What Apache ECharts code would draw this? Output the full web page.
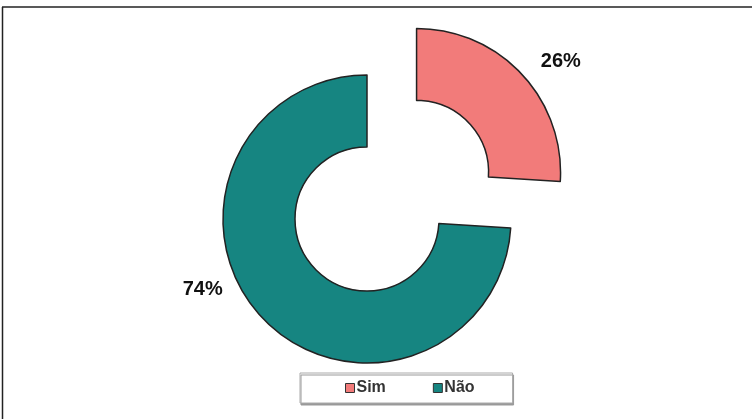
<!DOCTYPE html>
<html><head><meta charset="utf-8">
<script src="https://cdn.jsdelivr.net/npm/echarts@6/dist/echarts.min.js"></script>
<style>html,body{margin:0;padding:0;background:#fff}#c{width:752px;height:419px}</style>
</head><body><div id="c"></div>
<script>
const categories = ['Sim', 'Não'];
const values = [26, 74];
const colors = ['#F27B7A', '#168581'];

const chart = echarts.init(document.getElementById('c'));
chart.setOption({
  animation: false,
  backgroundColor: '#fff',
  graphic: [
    { type: 'line', shape: { x1: 2, y1: 7, x2: 752, y2: 7 }, style: { stroke: '#222', lineWidth: 1.5 } },
    { type: 'line', shape: { x1: 2.5, y1: 7, x2: 2.5, y2: 419 }, style: { stroke: '#222', lineWidth: 1.5 } }
  ],
  legend: {
    left: 300, top: 373,
    padding: [7, 38, 7, 45],
    itemGap: 47,
    itemWidth: 9, itemHeight: 9,
    icon: 'rect',
    borderColor: '#aaa', borderWidth: 1,
    shadowColor: '#999', shadowOffsetX: 1, shadowOffsetY: 2, shadowBlur: 0,
    backgroundColor: '#fff',
    textStyle: { fontFamily: 'Liberation Sans, Arial', fontSize: 16, fontWeight: 'bold', color: '#333', padding: [0, 0, 0, -3] },
    itemStyle: { borderColor: '#333', borderWidth: 1 },
    data: categories
  },
  series: [{
    type: 'pie',
    center: [367, 219],
    radius: [72, 144],
    startAngle: 90,
    clockwise: true,
    selectedMode: 'single',
    selectedOffset: 68,
    emphasis: { disabled: true },
    itemStyle: { borderColor: '#222', borderWidth: 1.5 },
    label: {
      show: true, position: 'outside',
      formatter: '{d}%',
      fontFamily: 'Liberation Sans, Arial', fontWeight: 'bold', fontSize: 20, color: '#111'
    },
    labelLine: { show: false, length: 10, length2: 0 },
    labelLayout: function (p) {
      return p.dataIndex === 0 ? { dx: 7, dy: -6 } : { dx: -27, dy: -35 };
    },
    data: categories.map((c, i) => ({
      name: c, value: values[i], selected: i === 0,
      itemStyle: { color: colors[i] }
    }))
  }]
});
</script></body></html>
